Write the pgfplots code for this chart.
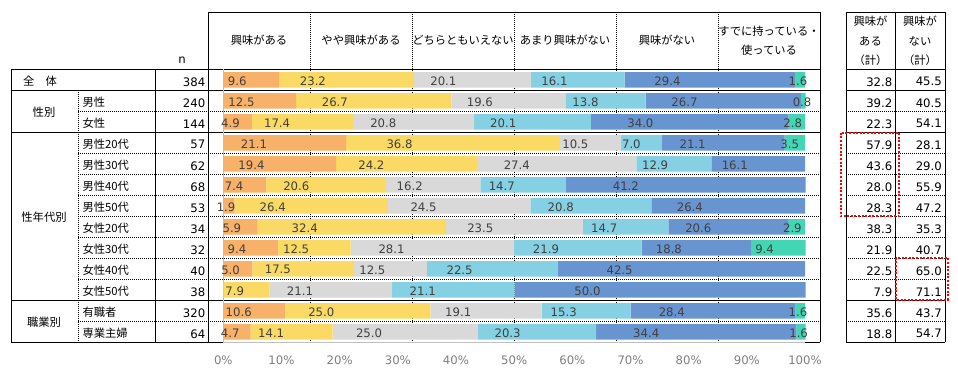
\documentclass[border=0pt]{standalone}
\usepackage{pgfplots}
\pgfplotsset{compat=1.18}
\usepackage{pgfplotstable}
\usepackage{fontspec}
\setmainfont{DejaVu Sans}
\newfontfamily\jp{Noto Sans CJK JP}
\definecolor{cA}{HTML}{F8B169}
\definecolor{cB}{HTML}{FADA64}
\definecolor{cC}{HTML}{D9D9D9}
\definecolor{cD}{HTML}{85D0E3}
\definecolor{cE}{HTML}{6895D0}
\definecolor{cF}{HTML}{43D6B5}
\definecolor{valtxt}{HTML}{404040}
\definecolor{ticktxt}{HTML}{7F7F7F}
\definecolor{axgray}{HTML}{BFBFBF}
\newcommand\num{\fontsize{11.7bp}{14bp}\selectfont}
\newcommand\jpf{\jp\fontsize{11.3bp}{14bp}\selectfont}

\pgfplotstableread{
pos a b c d e f
13 9.6 23.2 20.1 16.1 29.4 1.6
12 12.5 26.7 19.6 13.8 26.7 0.8
11 4.9 17.4 20.8 20.1 34.0 2.8
10 21.1 36.8 10.5 7.0 21.1 3.5
9 19.4 24.2 27.4 12.9 16.1 0
8 7.4 20.6 16.2 14.7 41.2 0
7 1.9 26.4 24.5 20.8 26.4 0
6 5.9 32.4 23.5 14.7 20.6 2.9
5 9.4 12.5 28.1 21.9 18.8 9.4
4 5.0 17.5 12.5 22.5 42.5 0
3 0 7.9 21.1 21.1 50.0 0
2 10.6 25.0 19.1 15.3 28.4 1.6
1 4.7 14.1 25.0 20.3 34.4 1.6
}\data

\begin{document}
\begin{tikzpicture}[x=1bp,y=-1bp,
  tl/.style={black, line width=1bp},
  td/.style={black, line width=0.8bp, dash pattern=on 1bp off 1bp}]
\useasboundingbox (0,0) rectangle (958,373);
% dotted header dividers
\foreach \xx in {310,412,514,616,718} \draw[td] (\xx,12) -- (\xx,342.3);
% dotted row separators
\foreach \k in {2,4,5,6,7,8,9,10,12} {
  \pgfmathsetmacro\yy{69.3+21*\k}
  \draw[td] (78,\yy) -- (820,\yy);
  \draw[td] (846,\yy) -- (945,\yy);
}
% solid lines
\draw[tl] (208,12) -- (820,12);
\draw[tl] (846,12) -- (945,12);
\foreach \yy in {69.3,90.3,132.3,300.3,342.3} {
  \draw[tl] (11,\yy) -- (820,\yy);
  \draw[tl] (846,\yy) -- (945,\yy);
}
\draw[tl] (11,69.3) -- (11,342.3);
\draw[td] (78,90.3) -- (78,342.3);
\draw[tl] (155,69.3) -- (155,342.3);
\draw[tl] (208,12) -- (208,342.3);
\draw[tl] (820,12) -- (820,342.3);
\draw[tl] (846,12) -- (846,342.3);
\draw[tl] (895,12) -- (895,342.3);
\draw[tl] (945,12) -- (945,342.3);

\begin{axis}[
 at={(223.3bp,-342.3bp)}, anchor=south west,
 width=581.7bp, height=273bp, scale only axis,
 xbar stacked, bar width=15.5bp,
 xmin=0, xmax=100, ymin=0.5, ymax=13.5,
 enlargelimits=false, clip=false,
 axis lines*=left,
 axis line style={-, draw=axgray, line width=1bp},
 ytick=\empty,
 xtick={0,10,...,100},
 xticklabels={0\%,10\%,20\%,30\%,40\%,50\%,60\%,70\%,80\%,90\%,100\%},
 major tick length=0pt,
 xticklabel style={font=\num, text=ticktxt, anchor=center, yshift=-17.7bp},
 /pgf/number format/assume math mode=true,
 point meta=explicit,
 nodes near coords={\pgfmathfloatifflags{\pgfplotspointmeta}{0}{}{\pgfmathprintnumber[fixed,fixed zerofill,precision=1,assume math mode=true]{\pgfplotspointmeta}}},
 every node near coord/.append style={font=\num, text=valtxt, anchor=center, inner sep=0pt, xshift=-\segv*1.454bp, yshift=-1bp},
]
\addplot[fill=cA, draw=none, visualization depends on={\thisrow{a}\as\segv}] table[x=a,y=pos,meta=a]{\data};
\addplot[fill=cB, draw=none, visualization depends on={\thisrow{b}\as\segv}] table[x=b,y=pos,meta=b]{\data};
\addplot[fill=cC, draw=none, visualization depends on={\thisrow{c}\as\segv}] table[x=c,y=pos,meta=c]{\data};
\addplot[fill=cD, draw=none, visualization depends on={\thisrow{d}\as\segv}] table[x=d,y=pos,meta=d]{\data};
\addplot[fill=cE, draw=none, visualization depends on={\thisrow{e}\as\segv}] table[x=e,y=pos,meta=e]{\data};
\addplot[fill=cF, draw=none, visualization depends on={\thisrow{f}\as\segv}] table[x=f,y=pos,meta=f]{\data};
\end{axis}

% red dotted boxes
\draw[red, line width=2bp, dash pattern=on 2bp off 1.6bp] (840.7,132.7) rectangle (899,216.3);
\draw[red, line width=2bp, dash pattern=on 2bp off 1.6bp] (895.5,257.7) rectangle (947.7,299.5);

% header texts
\node[font=\jpf] at (259,40.5) {興味がある};
\node[font=\jpf] at (361,40.5) {やや興味がある};
\node[font=\jpf] at (463,40.5) {どちらともいえない};
\node[font=\jpf] at (565,40.5) {あまり興味がない};
\node[font=\jpf] at (667,40.5) {興味がない};
\node[font=\jpf] at (769,31.5) {すでに持っている・};
\node[font=\jpf] at (769,50.5) {使っている};
\node[font=\jpf] at (870.5,21) {興味が};
\node[font=\jpf] at (870.5,41) {ある};
\node[font=\jpf] at (870.5,60) {（計）};
\node[font=\jpf] at (920,21) {興味が};
\node[font=\jpf] at (920,41) {ない};
\node[font=\jpf] at (920,60) {（計）};
\node[font=\num] at (182,60) {n};

% group labels
\node[font=\jpf] at (40,81.3) {全　体};
\node[font=\jpf] at (44,112.3) {性別};
\node[font=\jpf] at (44,217.3) {性年代別};
\node[font=\jpf] at (44,322.3) {職業別};

% sub labels
\foreach \lab [count=\k from 2] in {男性,女性,男性20代,男性30代,男性40代,男性50代,女性20代,女性30代,女性40代,女性50代,有職者,専業主婦} {
  \pgfmathsetmacro\yy{60.3+21*\k}
  \node[font=\jpf, anchor=west] at (79,\yy) {\lab};
}
% n values
\foreach \v [count=\k] in {384,240,144,57,62,68,53,34,32,40,38,320,64} {
  \pgfmathsetmacro\yy{60.8+21*\k}
  \node[font=\num, anchor=east, inner sep=0pt] at (205.5,\yy) {\v};
}
% totals
\foreach \v [count=\k] in {32.8,39.2,22.3,57.9,43.6,28.0,28.3,38.3,21.9,22.5,7.9,35.6,18.8} {
  \pgfmathsetmacro\yy{60.8+21*\k}
  \node[font=\num, anchor=east, inner sep=0pt] at (892.5,\yy) {\v};
}
\foreach \v [count=\k] in {45.5,40.5,54.1,28.1,29.0,55.9,47.2,35.3,40.7,65.0,71.1,43.7,54.7} {
  \pgfmathsetmacro\yy{60.8+21*\k}
  \node[font=\num, anchor=east, inner sep=0pt] at (942,\yy) {\v};
}
\end{tikzpicture}
\end{document}
